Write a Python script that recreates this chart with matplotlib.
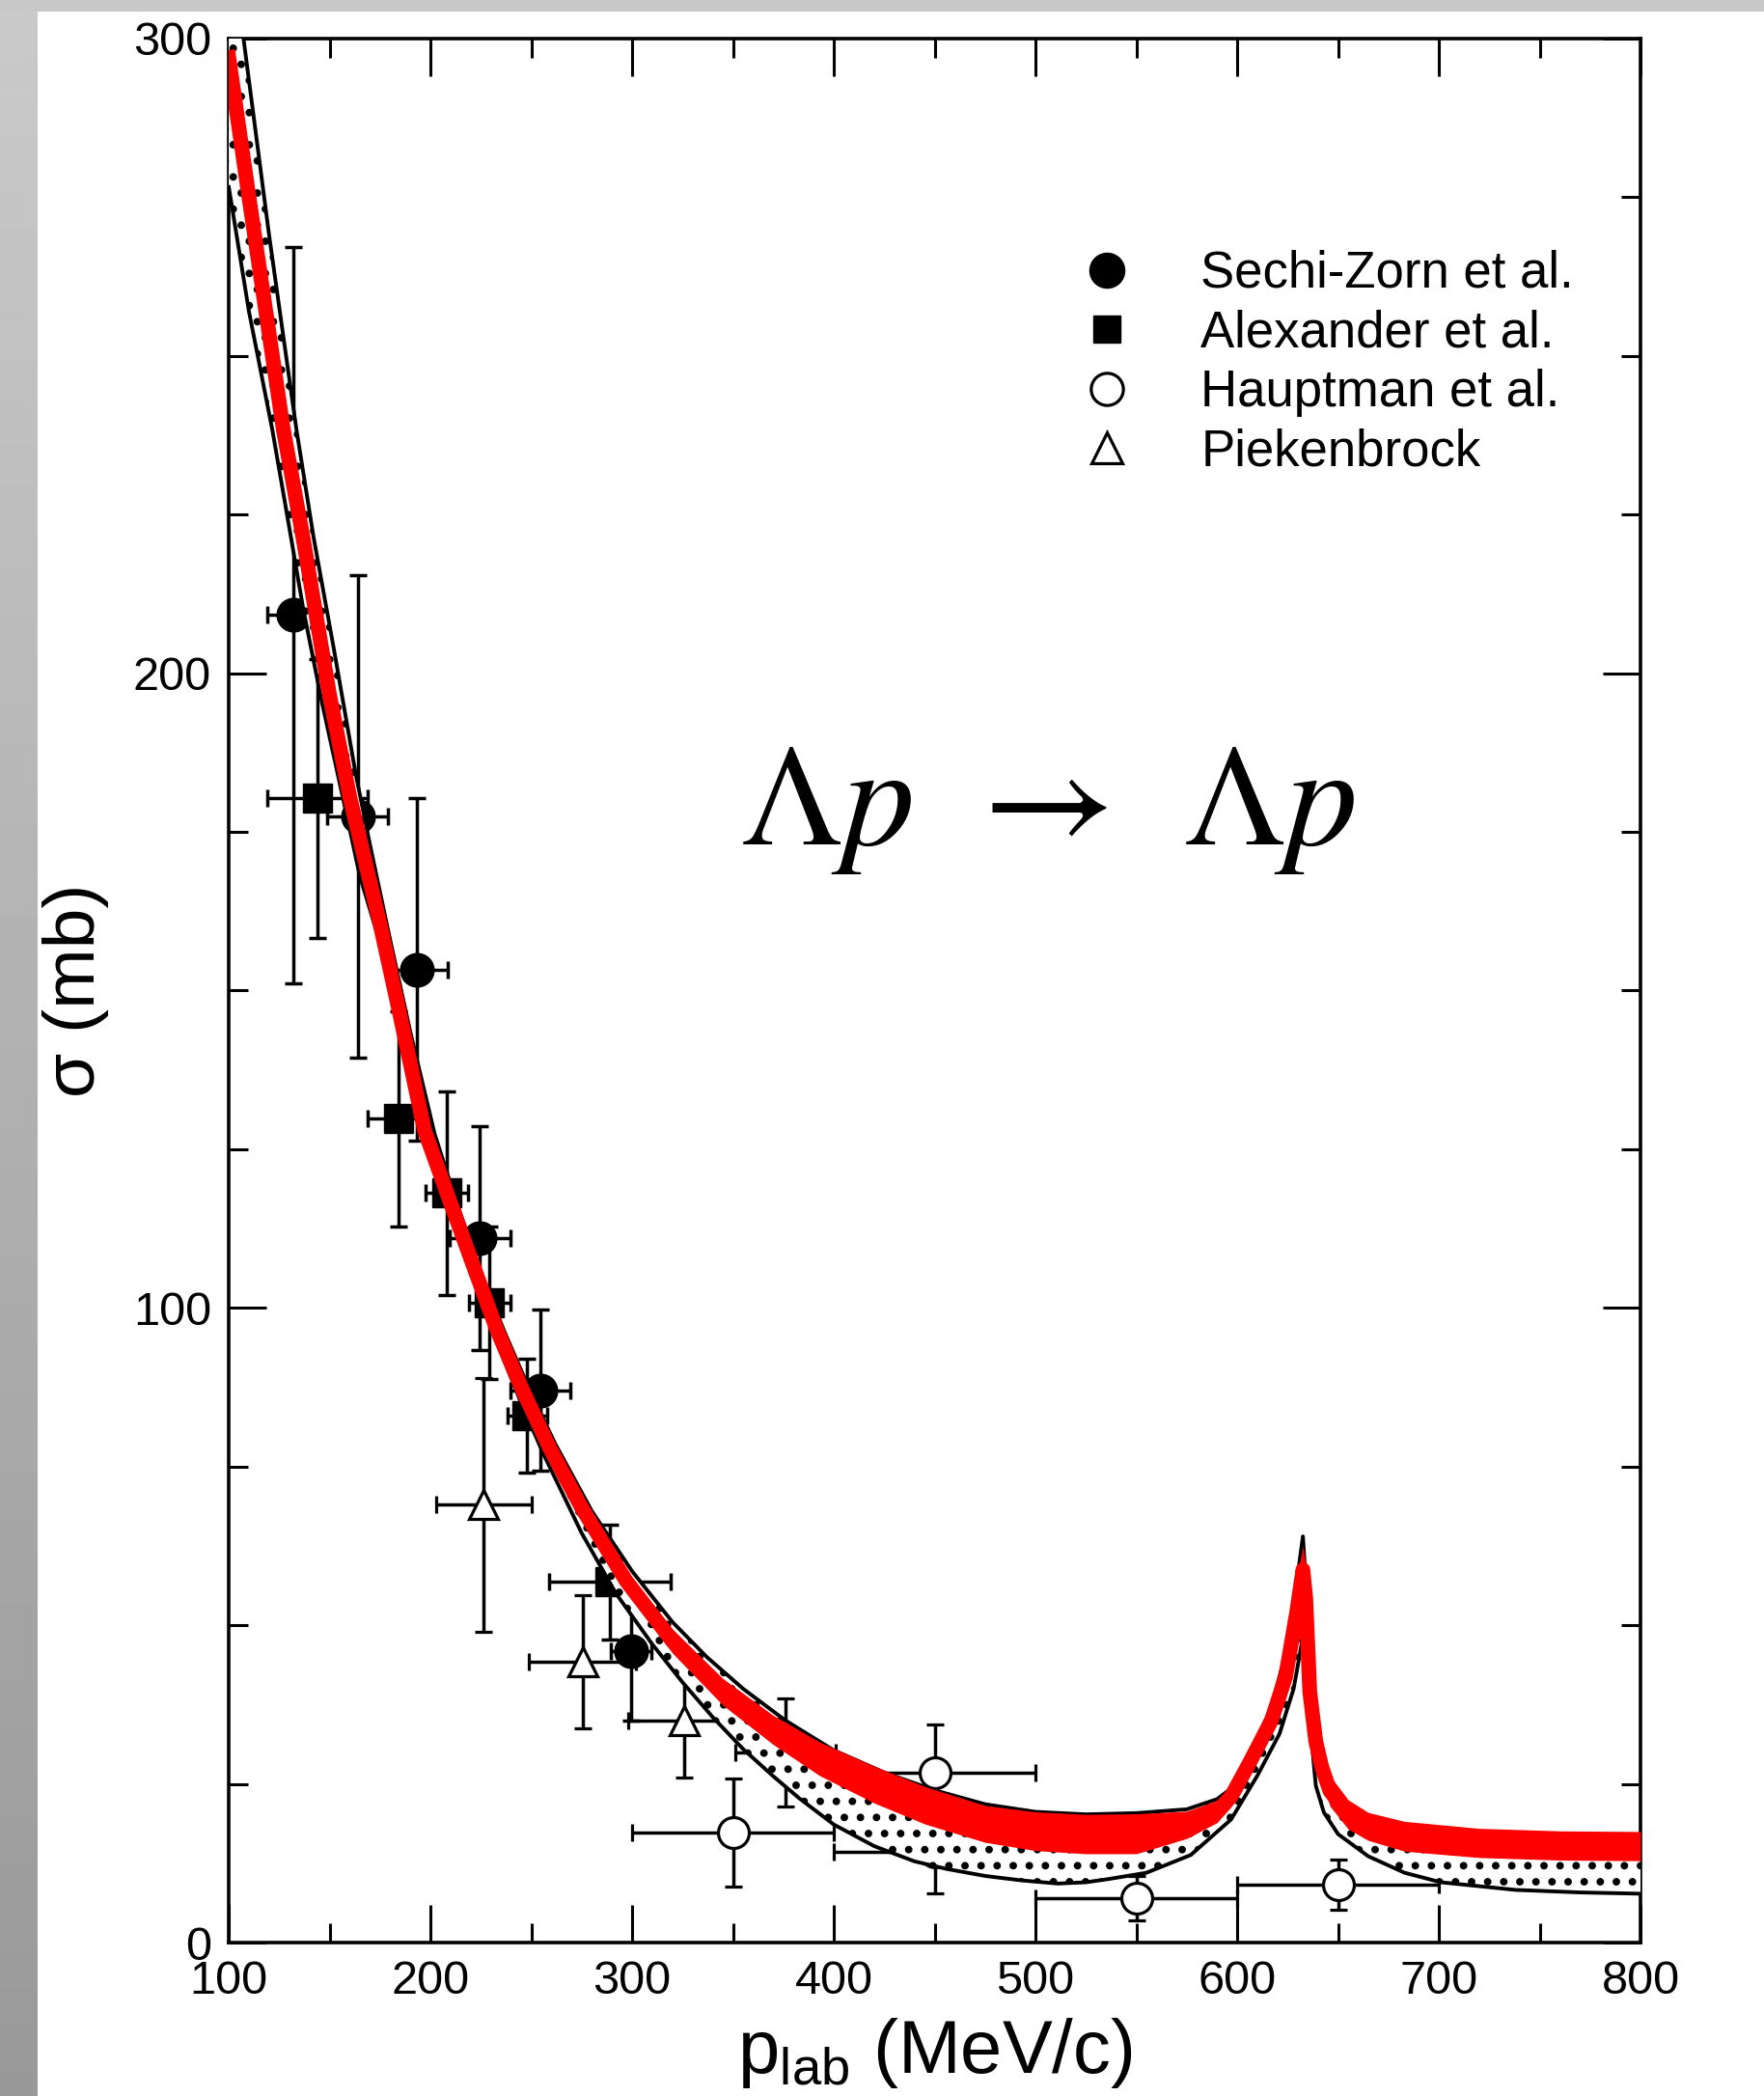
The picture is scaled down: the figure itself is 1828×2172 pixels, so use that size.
import numpy as np
import matplotlib.pyplot as plt
from matplotlib.lines import Line2D
from matplotlib.patches import Rectangle

plt.rcParams['font.family'] = ['Liberation Sans', 'DejaVu Sans']
plt.rcParams['mathtext.fontset'] = 'custom'
plt.rcParams['mathtext.rm'] = 'Liberation Sans'
plt.rcParams['mathtext.it'] = 'Liberation Sans:italic'
plt.rcParams['hatch.linewidth'] = 3.2

# --- data points (p_lab [MeV/c], sigma [mb]) ---
sz_x = [132, 164, 193.5, 224.5, 254.5, 299.5]
sz_y = [209.2, 177.5, 153.3, 111, 87, 45.9]
sz_xerr = [13, 15, 15, 15, 15, 10]
sz_yerr = [58, 38, 27, 17.7, 12.7, 11]

al_x = [144, 184, 208, 229.3, 248, 289]
al_y = [180.3, 129.8, 118.1, 100.8, 83, 56.8]
al_xerr = [25, 15, 10.5, 10.4, 10, 30]
al_yerr = [22, 17, 16, 12, 9, 9]

ha_x = [350, 450, 450, 550, 650]
ha_y = [17.3, 26.8, 14.3, 7.0, 9.1]
ha_xerr = [50, 50, 50, 50, 50]
ha_yerr = [8.5, 7.5, 6.5, 3.5, 4]

pk_x = [226.5, 275.5, 326, 376]
pk_y = [69, 44.2, 35, 30]
pk_xerr = [23.5, 26.5, 28, 25]
pk_yerr = [20, 10.5, 9, 8.5]

# --- hatched band: upper and lower black curves ---
up_x = [100, 107.3, 120, 133.5, 142, 152, 163, 170, 180, 190, 202, 212, 225, 237, 250,
        262, 280, 300, 320, 337, 355, 376, 400, 425, 450, 475, 500, 525, 550, 575, 590,
        600, 608, 617, 624, 629, 632.6, 634, 636, 639, 642, 646, 655, 665, 683, 720, 760, 800]
up_y = [318, 300, 269, 238.5, 221.5, 204, 184, 173, 158, 143.5, 127.5, 117.5, 105.5, 96, 86.5,
        78.5, 68, 58.5, 50.5, 45, 40, 35, 30.3, 26.8, 24, 21.8, 20.6, 20.2, 20.4, 21.0, 22.6,
        25, 30.5, 37.2, 45.5, 55.5, 64, 57, 40, 32.5, 28.5, 25.2, 21.4, 19.4, 18.1, 17.1, 16.7, 16.6]

lo_x = [100, 110, 121.5, 131, 137, 146, 156.5, 165, 175, 185, 197, 210, 222, 233, 245, 256,
        275, 292, 310, 325, 340, 355, 370, 383, 400, 420, 440, 456, 475, 493, 511, 525, 536,
        555, 577, 597, 610, 621, 628, 631.7, 633, 634.4, 636, 639, 643, 650, 665, 683, 701,
        738, 770, 800]
lo_y = [276.6, 257, 238.5, 221.1, 210, 195.7, 180.5, 168, 157.5, 143.5, 126, 114.5, 104, 94.5,
        85, 77, 64.5, 55, 47, 41, 35.5, 30.5, 26.2, 22.7, 18.6, 15.2, 12.8, 11.6, 10.5, 9.8,
        9.3, 9.5, 10, 11, 13.8, 19.4, 26.3, 32.9, 40, 46.6, 49, 44, 35, 24.7, 20.5, 17.1, 13.6,
        11, 9.5, 8.3, 7.9, 7.7]

# --- red band ---
red_x = [100, 110, 120, 127, 137, 146, 150, 160, 175, 185, 197, 210, 222, 233, 245, 259, 275,
         297, 320, 345, 370, 393, 420, 445, 475, 500, 525, 550, 575, 590, 597, 606, 617, 624,
         629.5, 632.6, 634, 635, 636, 639, 642, 646, 655, 665, 683, 720, 760, 800]
red_lo = [295.5, 273.5, 252, 237, 219.5, 202.5, 195, 179, 159, 144.5, 126.5, 115, 104.7, 95.2,
          86.2, 76.8, 67, 55.3, 45.6, 37.4, 31.2, 26.3, 22, 18.7, 15.8, 14.5, 14.0, 14.0, 16.4,
          18.9, 21.4, 26.3, 32.8, 38.5, 46.5, 55, 49, 43, 37, 29.3, 25.5, 21.5, 17.9, 16.1, 14.4,
          13.4, 13.0, 12.9]
red_hi = [298.5, 276.5, 255, 240, 222.5, 205.5, 198, 182, 162, 147.5, 129.5, 118, 107.3, 97.8,
          88.8, 79.2, 70, 58.7, 49.4, 41.6, 35.8, 31.6, 27.8, 24.6, 21.6, 20.6, 20.2, 20.3, 20.7,
          22.4, 24.6, 30.2, 37.2, 45.2, 57.5, 62.5, 59.5, 51, 42, 34, 29.7, 26.3, 22.5, 20.5, 19.1,
          18.0, 17.6, 17.5]

labels = ['Sechi-Zorn et al.', 'Alexander et al.', 'Hauptman et al.', 'Piekenbrock']

fig = plt.figure(figsize=(18.28, 21.72), dpi=100)
fig.patch.set_facecolor('white')

# grey frame of the slide (left gradient strip + top strip)
bg = fig.add_axes([0, 0, 1, 1], zorder=-1)
grad = np.linspace(0.79, 0.60, 256)[:, None]
bg.imshow(grad, cmap='gray', vmin=0, vmax=1, extent=(0, 39, 2172, 0), aspect='auto')
bg.add_patch(Rectangle((0, 0), 1828, 12, color='#c8c8c8', lw=0))
bg.set_xlim(0, 1828)
bg.set_ylim(2172, 0)
bg.axis('off')

ax = fig.add_axes([0.1297, 0.0732, 0.8003, 0.9084])

# hatched band between the two black curves
band_x = np.concatenate([up_x, lo_x[::-1]])
band_y = np.concatenate([up_y, lo_y[::-1]])
ax.fill(band_x, band_y, facecolor='white', edgecolor='black', hatch='.', linewidth=0, zorder=3)
ax.plot(up_x, up_y, color='black', lw=2.8, zorder=4)
ax.plot(lo_x, lo_y, color='black', lw=2.8, zorder=4)

# red band
red_lo = np.array(red_lo)
red_hi = np.array(red_hi)
ax.fill_between(red_x, red_lo, red_hi, color='red', lw=0, zorder=5)
ax.plot(red_x, (red_lo + red_hi) / 2, color='red', lw=11, zorder=5, solid_joinstyle='round')

# experimental data
eb = dict(ecolor='black', elinewidth=2.5, capsize=6.5, capthick=2.5, zorder=2, ls='none')
ax.errorbar(sz_x, sz_y, xerr=sz_xerr, yerr=sz_yerr, marker='o', ms=25,
            mfc='black', mec='black', **eb)
ax.errorbar(al_x, al_y, xerr=al_xerr, yerr=al_yerr, marker='s', ms=21,
            mfc='black', mec='black', **eb)
ax.errorbar(ha_x, ha_y, xerr=ha_xerr, yerr=ha_yerr, marker='o', ms=23,
            mfc='white', mec='black', mew=2.3, **eb)
ax.errorbar(pk_x, pk_y, xerr=pk_xerr, yerr=pk_yerr, marker='^', ms=22,
            mfc='white', mec='black', mew=2.3, **eb)

handles = [
    Line2D([], [], ls='none', marker='o', ms=26, mfc='black', mec='black'),
    Line2D([], [], ls='none', marker='s', ms=20, mfc='black', mec='black'),
    Line2D([], [], ls='none', marker='o', ms=24, mfc='white', mec='black', mew=2.3),
    Line2D([], [], ls='none', marker='^', ms=23, mfc='white', mec='black', mew=2.3),
]
ax.legend(handles, labels, loc='upper left', bbox_to_anchor=(0.604, 0.889),
          frameon=False, fontsize=38, handlelength=1.0, handletextpad=1.34,
          labelspacing=0.22, borderpad=0, borderaxespad=0, numpoints=1)

ax.text(506, 173, r'$\Lambda p\;\,\rightarrow\;\,\Lambda p$', fontsize=108,
        math_fontfamily='stix', ha='center', va='baseline', zorder=6)

ax.set_xlim(100, 800)
ax.set_ylim(0, 300)
ax.set_xticks(np.arange(100, 801, 100))
ax.set_xticks(np.arange(100, 801, 50), minor=True)
ax.set_yticks([0, 100, 200, 300])
ax.set_yticks(np.arange(0, 301, 25), minor=True)
ax.tick_params(which='both', direction='in', top=True, right=True, width=2.2,
               labelsize=35, pad=13)
ax.tick_params(which='major', length=28)
ax.tick_params(which='minor', length=14.5)
for sp in ax.spines.values():
    sp.set_linewidth(2.6)

ax.set_xlabel(r'p$_\mathregular{lab}$ (MeV/c)', fontsize=56)
ax.set_ylabel('σ (mb)', fontsize=54)
ax.xaxis.set_label_coords(0.5, -0.0386)
ax.yaxis.set_label_coords(-0.085, 0.5)

fig.savefig('out.png', dpi=100)
